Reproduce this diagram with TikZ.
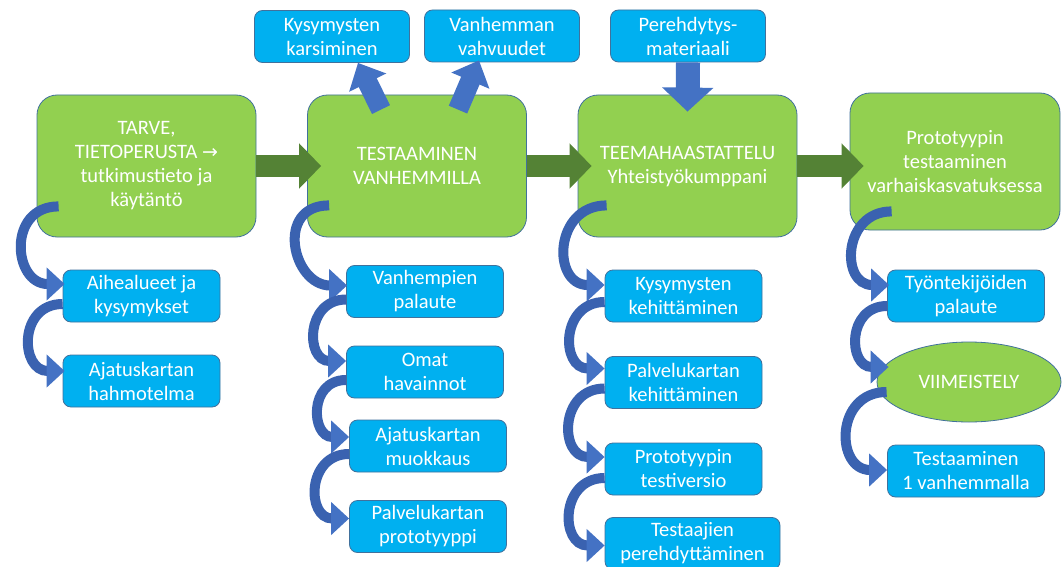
\documentclass[tikz,border=0pt]{standalone}
\usepackage{fontspec}
\setmainfont{Carlito}
\newfontfamily\symfont{DejaVu Sans}
\usetikzlibrary{arrows.meta,shapes.geometric}

\definecolor{phasegreen}{HTML}{92D050}
\definecolor{taskblue}{HTML}{00B0F0}
\definecolor{outline}{HTML}{41719C}
\definecolor{flowgreen}{HTML}{548235}
\definecolor{flowblue}{HTML}{4472C4}
\definecolor{bandblue}{HTML}{3A62B0}

\tikzset{
  phase/.style={fill=phasegreen,rounded corners=20pt,minimum width=219pt,minimum height=142pt},
  task/.style={fill=taskblue,rounded corners=8pt,minimum width=157pt,minimum height=52pt},
  finish/.style={ellipse,fill=phasegreen,minimum width=184pt,minimum height=80pt}
}

\begin{document}
\begin{tikzpicture}[x=1pt,y=-1pt]
\useasboundingbox[fill=white] (0,0) rectangle (1062,567);

\begin{scope}[every node/.style={draw=outline,line width=0.8pt,text=white,align=center,inner sep=0pt,
                                 font=\fontsize{20.5}{24}\selectfont}]
    % phases
    \node[phase] (tarve) at (146.5,166) {TARVE,\\TIETOPERUSTA {\symfont\fontsize{19}{24}\selectfont →}\\tutkimustieto ja\\käytäntö};
    \node[phase] (testaus) at (417,166) {TESTAAMINEN\\VANHEMMILLA};
    \node[phase] (teema) at (687.5,166) {TEEMAHAASTATTELU\\Yhteistyökumppani};
    \node[phase,minimum width=210pt,minimum height=137pt] (proto) at (955,161.5) {Prototyypin\\testaaminen\\varhaiskasvatuksessa};
    % top
    \node[task,minimum width=155pt] (karsinta) at (332,36.5) {Kysymysten\\karsiminen};
    \node[task,minimum width=155pt] (vahvuus) at (502,36) {Vanhemman\\vahvuudet};
    \node[task,minimum width=155pt] (materiaali) at (688,36) {Perehdytys-\\materiaali};
    % column 1
    \node[task] (aihe) at (141.5,296) {Aihealueet ja\\kysymykset};
    \node[task] (hahmo) at (141.5,381) {Ajatuskartan\\hahmotelma};
    % column 2
    \node[task] (palaute) at (425,291.5) {Vanhempien\\palaute};
    \node[task] (havainto) at (425,372) {Omat\\havainnot};
    \node[task] (muokkaus) at (428,446) {Ajatuskartan\\muokkaus};
    \node[task] (prototyyppi) at (428,526.5) {Palvelukartan\\prototyyppi};
    % column 3
    \node[task] (kehitys) at (683.5,296) {Kysymysten\\kehittäminen};
    \node[task] (palvelu) at (683.5,382.5) {Palvelukartan\\kehittäminen};
    \node[task] (testiversio) at (683.5,469) {Prototyypin\\testiversio};
    \node[task,minimum width=175pt] (perehdytys) at (692.5,543.5) {Testaajien\\perehdyttäminen};
    % column 4
    \node[task] (tyontekija) at (966,296) {Työntekijöiden\\palaute};
    \node[finish] (viimeistely) at (969,382) {VIIMEISTELY};
    \node[task] (yksi) at (966,471) {Testaaminen\\1 vanhemmalla};
\end{scope}

% main flow
\begin{scope}[>={Triangle[length=22pt,width=44pt]},
              every edge/.style={draw=flowgreen,line width=22pt}]
    \path [->] (tarve.east) edge ([xshift=14pt]testaus.west);
    \path [->] (testaus.east) edge ([xshift=14pt]teema.west);
    \path [->] (teema.east) edge ([xshift=14pt]proto.west |- teema.east);
\end{scope}

% up and down
\begin{scope}[>={Triangle[length=22pt,width=40pt]},
              every edge/.style={draw=flowblue,line width=20pt}]
    \path [->] ([shift={(-36,15)}]testaus.north) edge ([xshift=26pt]karsinta.south);
    \path [->] ([shift={(41,15)}]testaus.north) edge ([shift={(-23,-2)}]vahvuus.south);
    \path [->,>={Triangle[length=24pt,width=50pt]}] (materiaali.south) edge[line width=24pt] ([yshift=-17pt]teema.north);
\end{scope}

% side steps
\begin{scope}[>={Triangle[length=18pt,width=32pt,color=flowblue]},
              every edge/.style={draw=bandblue,line width=10pt,out=180,in=180,looseness=1.7}]
    \path [->] ([shift={(22,-31)}]tarve.south west) edge ([shift={(2,-12)}]aihe.west);
    \path [->] ([shift={(0,8)}]aihe.west) edge ([shift={(2,-10)}]hahmo.west);

    \path [->] ([shift={(22,-32)}]testaus.south west) edge ([shift={(1,-6)}]palaute.west);
    \path [->] ([shift={(0,8)}]palaute.west) edge ([shift={(0,-11)}]havainto.west);
    \path [->] ([shift={(0,8)}]havainto.west) edge ([shift={(0,-9)}]muokkaus.west);
    \path [->] ([shift={(0,8)}]muokkaus.west) edge ([shift={(0,-8)}]prototyyppi.west);

    \path [->] ([shift={(29,-32)}]teema.south west) edge ([shift={(0,-11)}]kehitys.west);
    \path [->] ([shift={(0,6)}]kehitys.west) edge ([shift={(0,-14)}]palvelu.west);
    \path [->] ([shift={(0,6)}]palvelu.west) edge ([shift={(0,-12)}]testiversio.west);
    \path [->] ([shift={(0,9)}]testiversio.west) edge ([shift={(0,2)}]perehdytys.west);

    \path [->] ([shift={(42,-19)}]proto.south west) edge ([shift={(2,-11)}]tyontekija.west);
    \path [->] ([shift={(0,10)}]tyontekija.west) edge ([shift={(12,-15)}]viimeistely.west);
    \path [->] ([shift={(10,10)}]viimeistely.west) edge ([shift={(0,-1)}]yksi.west);
\end{scope}
\end{tikzpicture}
\end{document}
